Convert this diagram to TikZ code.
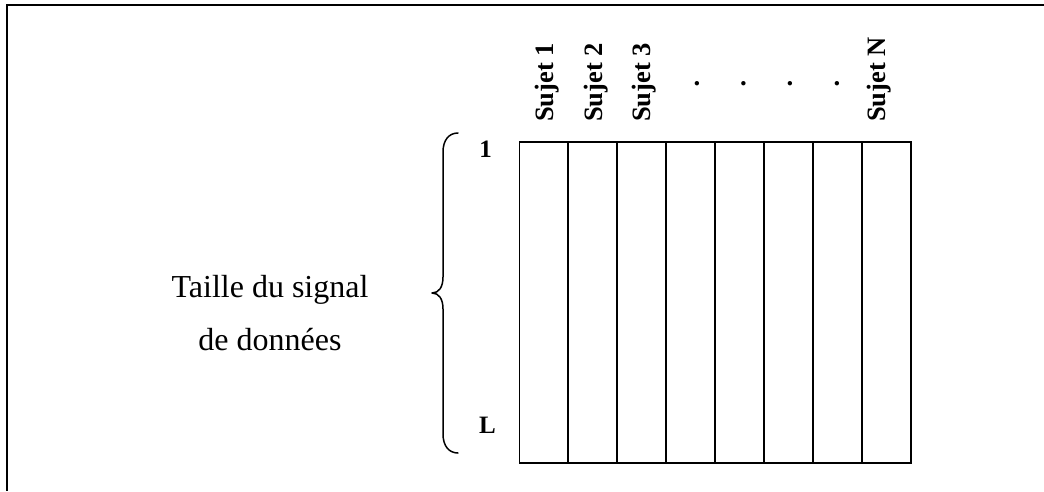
\documentclass[tikz,border=0pt]{standalone}
\usepackage{fontspec}
\setmainfont{Liberation Serif}
\begin{document}
\begin{tikzpicture}[x=1pt,y=-1pt,
  frameline/.style={line width=2.3pt},
  cell/.style={draw, line width=1.9pt, minimum width=48.94pt, minimum height=321.6pt, inner sep=0pt, outer sep=0pt, anchor=north west},
  subj/.style={rotate=90, anchor=base west, inner sep=0pt, font=\fontsize{26.5}{30}\selectfont\bfseries},
  rowlab/.style={anchor=base, inner sep=0pt, font=\fontsize{25}{30}\selectfont\bfseries},
  dotlab/.style={inner sep=0pt, font=\fontsize{27}{30}\selectfont\bfseries},
  sidetext/.style={anchor=base, inner sep=0pt, font=\fontsize{32}{38}\selectfont},
  bracestyle/.style={line width=1.5pt, line cap=round, line join=round}]
\useasboundingbox (0,0) rectangle (1044,491);
% frame (only top and left edges visible)
\coordinate (ftr) at (1044,5);
\coordinate (ftl) at (7,5);
\coordinate (fbl) at (7,491);
\draw[frameline] (ftr) -- (ftl) -- (fbl);
% grid columns
\foreach \i in {1,...,8} {
  \node[cell] (col\i) at ({519.5+(\i-1)*48.94},141.7) {};
}
% column labels
\node[subj] (s1) at (553.5,122) {Sujet 1};
\node[subj] (s2) at (602,122) {Sujet 2};
\node[subj] (s3) at (650.5,122) {Sujet 3};
\node[subj] (sN) at (885,122) {Sujet N};
\node[dotlab] (d1) at (697,84) {.};
\node[dotlab] (d2) at (743.5,84) {.};
\node[dotlab] (d3) at (790,84) {.};
\node[dotlab] (d4) at (837,84) {.};
% row labels
\node[rowlab] (r1) at (485.5,157) {1};
\node[rowlab] (rL) at (487.5,433) {L};
% brace
\draw[bracestyle] (458,133) .. controls (449,133) and (443,140) .. (443,152)
  -- (443,277) .. controls (443,287) and (439,293) .. (432,293)
  .. controls (439,293) and (443,299) .. (443,309)
  -- (443,434) .. controls (443,446) and (449,453) .. (458,453);
% side text
\node[sidetext] (t1) at (270,297) {Taille du signal};
\node[sidetext] (t2) at (270,350) {de données};
\end{tikzpicture}
\end{document}
